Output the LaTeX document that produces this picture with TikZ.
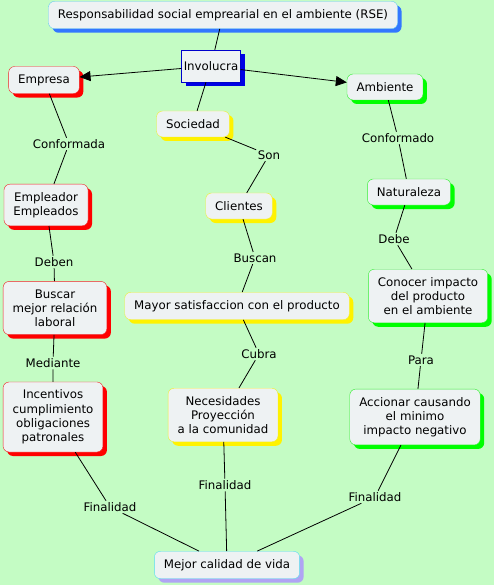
\documentclass[tikz,border=0pt]{standalone}
\usepackage{fontspec}
\setmainfont{DejaVu Sans}
\usetikzlibrary{arrows.meta,shadows}
\definecolor{bggreen}{HTML}{C4FCC4}
\definecolor{boxfill}{HTML}{EEF2F3}
\definecolor{rsedraw}{HTML}{66CCEE}
\definecolor{rseshadow}{HTML}{3377FF}
\definecolor{redline}{HTML}{EE2222}
\definecolor{greenline}{HTML}{33EE33}
\definecolor{yellowline}{HTML}{EEEE33}
\definecolor{vidadraw}{HTML}{55DDEE}
\definecolor{vidashadow}{HTML}{B0A4F4}
\begin{document}
\begin{tikzpicture}[
    x=1pt,y=-1pt,
    font=\fontsize{11.8}{14.2}\selectfont,
    box/.style 2 args={draw=#1,fill=boxfill,rounded corners=6pt,align=center,
        inner xsep=9.5pt,inner ysep=8pt,minimum height=26pt,
        drop shadow={shadow xshift=4pt,shadow yshift=-4pt,fill=#2,opacity=1}},
    lbl/.style={inner sep=1.5pt},
    lnk/.style={line width=0.8pt},
    arr/.style={-{Triangle[length=11pt,width=10pt]},line width=0.8pt}
]
\fill[bggreen] (0,0) rectangle (494,585);
% cabecera
\node[box={rsedraw}{rseshadow}] (rse) at (223,15) {Responsabilidad social emprearial en el ambiente (RSE)};
\node[draw=blue!80!black,fill=boxfill,minimum width=59pt,minimum height=32pt,inner xsep=2pt,
      drop shadow={shadow xshift=4pt,shadow yshift=-4pt,fill=blue!90!black,opacity=1}] (inv) at (211,66) {Involucra};
% ramas
\node[box={redline}{red}] (emp) at (44,80) {Empresa};
\node[box={greenline}{green}] (amb) at (385,87) {Ambiente};
\node[box={yellowline}{yellow}] (soc) at (193,124) {Sociedad};
\node[box={redline}{red}] (empl) at (46,205) {Empleador\\Empleados};
\node[box={yellowline}{yellow}] (cli) at (239,206) {Clientes};
\node[box={greenline}{green}] (nat) at (409,192) {Naturaleza};
\node[box={redline}{red}] (busc) at (55,308) {Buscar\\mejor relación\\laboral};
\node[box={yellowline}{yellow}] (may) at (237,306) {Mayor satisfaccion con el producto};
\node[box={greenline}{green}] (cono) at (428,296) {Conocer impacto\\del producto\\en el ambiente};
\node[box={redline}{red}] (inc) at (53,417) {Incentivos\\cumplimiento\\obligaciones\\patronales};
\node[box={yellowline}{yellow}] (nec) at (223,415) {Necesidades\\Proyección\\a la comunidad};
\node[box={greenline}{green}] (acc) at (415,417) {Accionar causando\\el minimo\\impacto negativo};
\node[box={vidadraw}{vidashadow}] (vida) at (227,565) {Mejor calidad de vida};
% etiquetas
\node[lbl] (conformada) at (69,144) {Conformada};
\node[lbl] (conformado) at (398,138) {Conformado};
\node[lbl] (son) at (269,155) {Son};
\node[lbl] (deben) at (54,262) {Deben};
\node[lbl] (buscan) at (255,258) {Buscan};
\node[lbl] (debe) at (394,239) {Debe};
\node[lbl] (mediante) at (53,363) {Mediante};
\node[lbl] (cubra) at (259,354) {Cubra};
\node[lbl] (para) at (421,360) {Para};
\node[lbl] (fin1) at (110,507) {Finalidad};
\node[lbl] (fin2) at (225,485) {Finalidad};
\node[lbl] (fin3) at (375,497) {Finalidad};
% conectores
\draw[lnk] (rse) -- (inv);
\draw[arr] (inv) -- (emp);
\draw[arr] (inv) -- (amb);
\draw[lnk] (inv) -- (soc);
\draw[lnk] (emp) -- (conformada) -- (empl);
\draw[lnk] (amb) -- (conformado) -- (nat);
\draw[lnk] (soc) -- (son) -- (cli);
\draw[lnk] (empl) -- (deben) -- (busc);
\draw[lnk] (cli) -- (buscan) -- (may);
\draw[lnk] (nat) -- (debe) -- (cono);
\draw[lnk] (busc) -- (mediante) -- (inc);
\draw[lnk] (may) -- (cubra) -- (nec);
\draw[lnk] (cono) -- (para) -- (acc);
\draw[lnk] (inc) -- (fin1) -- (vida);
\draw[lnk] (nec) -- (fin2) -- (vida);
\draw[lnk] (acc) -- (fin3) -- (vida);
\end{tikzpicture}
\end{document}
